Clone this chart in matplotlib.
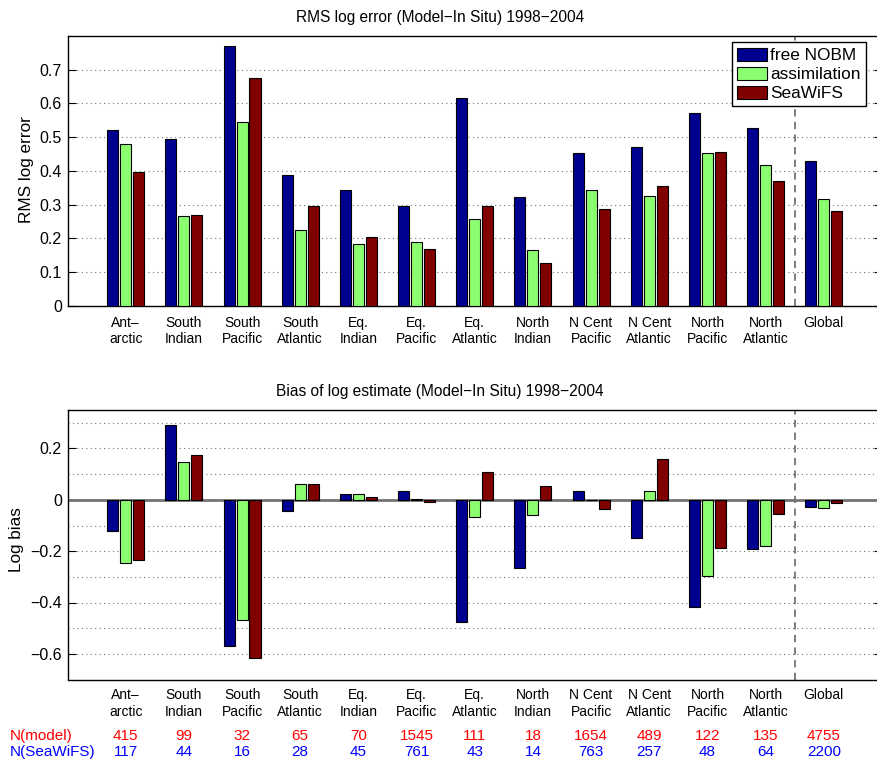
import matplotlib
matplotlib.use("Agg")
import matplotlib.pyplot as plt
import matplotlib.transforms as mtransforms
import numpy as np

plt.rcParams['font.family'] = ['Liberation Sans', 'DejaVu Sans']

regions = ["Ant\u2013\narctic", "South\nIndian", "South\nPacific", "South\nAtlantic",
           "Eq.\nIndian", "Eq.\nPacific", "Eq.\nAtlantic", "North\nIndian",
           "N Cent\nPacific", "N Cent\nAtlantic", "North\nPacific", "North\nAtlantic",
           "Global"]
series_names = ["free NOBM", "assimilation", "SeaWiFS"]

rms_free = [0.520, 0.495, 0.770, 0.387, 0.343, 0.295, 0.616, 0.322, 0.453, 0.470, 0.571, 0.528, 0.430]
rms_assim = [0.480, 0.267, 0.546, 0.226, 0.184, 0.189, 0.258, 0.166, 0.343, 0.326, 0.453, 0.416, 0.316]
rms_seawifs = [0.396, 0.269, 0.675, 0.296, 0.204, 0.169, 0.295, 0.128, 0.288, 0.356, 0.457, 0.369, 0.281]

bias_free = [-0.120, 0.292, -0.571, -0.042, 0.022, 0.035, -0.477, -0.264, 0.035, -0.147, -0.416, -0.190, -0.029]
bias_assim = [-0.247, 0.148, -0.469, 0.060, 0.023, 0.003, -0.068, -0.058, -0.002, 0.034, -0.295, -0.180, -0.032]
bias_seawifs = [-0.234, 0.174, -0.617, 0.061, 0.010, -0.009, 0.109, 0.053, -0.036, 0.160, -0.187, -0.056, -0.014]

n_model = [415, 99, 32, 65, 70, 1545, 111, 18, 1654, 489, 122, 135, 4755]
n_seawifs = [117, 44, 16, 28, 45, 761, 43, 14, 763, 257, 48, 64, 2200]

colors = ["#000090", "#8cff70", "#800000"]

W, H = 877, 762
fig = plt.figure(figsize=(W / 100, H / 100), dpi=100)

def axrect(left, top, right, bottom):
    return [left / W, 1 - bottom / H, (right - left) / W, (bottom - top) / H]

ax1 = fig.add_axes(axrect(67.5, 36, 882, 305.7))
ax2 = fig.add_axes(axrect(67.5, 410, 882, 679.5))

x = np.arange(1, len(regions) + 1)
offs = [-0.223, 0.0, 0.223]
bw = 0.19

def draw(ax, data):
    handles = []
    for vals, off, c, name in zip(data, offs, colors, series_names):
        h = ax.bar(x + off, vals, width=bw, color=c, edgecolor='black',
                   linewidth=0.8, label=name, zorder=3)
        handles.append(h)
    ax.set_xlim(0, 14)
    ax.axvline(12.5, color='0.45', linestyle=(0, (4, 3)), linewidth=1.3, zorder=2)
    ax.set_xticks(x)
    ax.set_xticklabels([])
    ax.tick_params(axis='x', length=0)
    ax.tick_params(axis='y', direction='in', right=True, left=True, length=6,
                   labelsize=11.5, width=0.8, pad=4)
    for s in ax.spines.values():
        s.set_linewidth(1.0)
    return handles

handles = draw(ax1, [rms_free, rms_assim, rms_seawifs])
ax1.set_ylim(0, 0.8)
ax1.set_yticks(np.arange(0, 0.71, 0.1))
ax1.set_yticklabels(["0"] + ["%.1f" % v for v in np.arange(0.1, 0.71, 0.1)])
ax1.yaxis.grid(True, linestyle=(0, (1, 3)), color='0.45', linewidth=0.8)
ax1.set_axisbelow(True)
fig.text(440 / W, 1 - 22 / H, "RMS log error (Model\u2212In Situ) 1998\u22122004",
         ha='center', va='baseline', fontsize=11.2)
fig.text(26 / W, 1 - 170 / H, "RMS log error", rotation=90, ha='center', va='center',
         fontsize=12.3)

leg = ax1.legend(handles=handles, loc='upper right',
                 bbox_to_anchor=(866 / W, 1 - 42.5 / H), bbox_transform=fig.transFigure,
                 fontsize=12.4, handlelength=1.75, handleheight=0.8, handletextpad=0.2,
                 labelspacing=0.2, borderpad=0.3, borderaxespad=0, fancybox=False,
                 framealpha=1, edgecolor='black')
leg.get_frame().set_linewidth(1.0)

draw(ax2, [bias_free, bias_assim, bias_seawifs])
ax2.set_ylim(-0.7, 0.35)
ax2.set_yticks([-0.6, -0.4, -0.2, 0, 0.2])
ax2.set_yticklabels(["\u22120.6", "\u22120.4", "\u22120.2", "0", "0.2"])
for gy in np.arange(-0.6, 0.31, 0.1):
    if abs(gy) < 1e-9:
        continue
    ax2.axhline(gy, linestyle=(0, (1, 3)), color='0.45', linewidth=0.8, zorder=1)
ax2.axhline(0, color='0.45', linewidth=2.0, zorder=2.5)
fig.text(440 / W, 1 - 396 / H, "Bias of log estimate (Model\u2212In Situ) 1998\u22122004",
         ha='center', va='baseline', fontsize=11.2)
fig.text(17 / W, 1 - 540 / H, "Log bias", rotation=90, ha='center', va='center',
         fontsize=12.3)

# category labels (two lines)
for ax, y1, y2 in [(ax1, 322.7, 339.5), (ax2, 695, 712.5)]:
    tr = mtransforms.blended_transform_factory(ax.transData, fig.transFigure)
    for xi, lab in zip(x, regions):
        parts = lab.split("\n")
        ax.text(xi, 1 - y1 / H, parts[0], transform=tr, ha='center', va='center', fontsize=10)
        if len(parts) > 1:
            ax.text(xi, 1 - y2 / H, parts[1], transform=tr, ha='center', va='center', fontsize=10)

tr = mtransforms.blended_transform_factory(ax2.transData, fig.transFigure)
for xi, nm, ns in zip(x, n_model, n_seawifs):
    ax2.text(xi, 1 - 736 / H, str(nm), transform=tr, ha='center', va='center',
             fontsize=11, color='#ff0000')
    ax2.text(xi, 1 - 752 / H, str(ns), transform=tr, ha='center', va='center',
             fontsize=11, color='#0000ff')
fig.text(10 / W, 1 - 736 / H, "N(model)", ha='left', va='center', fontsize=11, color='#ff0000')
fig.text(10 / W, 1 - 752 / H, "N(SeaWiFS)", ha='left', va='center', fontsize=11, color='#0000ff')

fig.savefig("out.png", dpi=100)
